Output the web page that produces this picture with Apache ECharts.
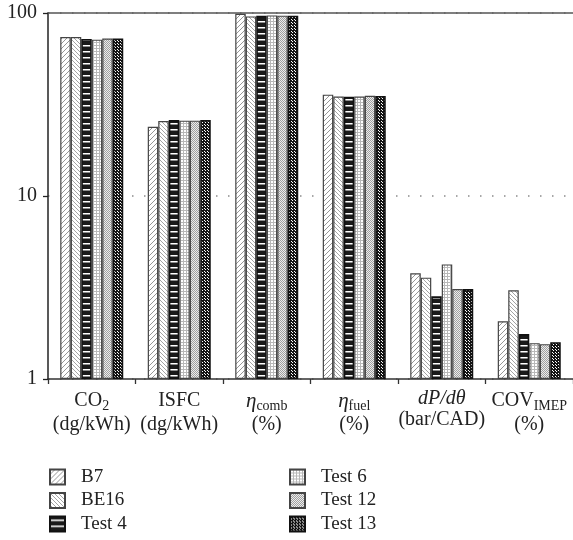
<!DOCTYPE html>
<html>
<head>
<meta charset="utf-8">
<script src="https://cdn.jsdelivr.net/npm/echarts@6/dist/echarts.min.js"></script>
<style>
    html, body { margin: 0; padding: 0; background: #fff; }
    #chart { width: 573px; height: 540px; }
</style>
</head>
<body>
<div id="chart"></div>
<script>
var categories = ['CO2', 'ISFC', 'ηcomb', 'ηfuel', 'dP/dθ', 'COV_IMEP'];
var categoryLabels = [
    '{m|CO}{sub|2}\n{m|(dg/kWh)}',
    '{m|ISFC}\n{m|(dg/kWh)}',
    '{i|η}{sub|comb}\n{m|(%)}',
    '{i|η}{sub|fuel}\n{m|(%)}',
    '{it|dP/dθ}\n{m|(bar/CAD)}',
    '{m|COV}{sub|IMEP}\n{m|(%)}'
];
var yTicks = [1, 10, 100];
var seriesNames = ['B7', 'BE16', 'Test 4', 'Test 6', 'Test 12', 'Test 13'];
var b7 = [73.9, 23.9, 99.0, 35.8, 3.78, 2.07];
var be16 = [73.9, 25.7, 95.8, 35.0, 3.58, 3.05];
var test4 = [72.1, 26.0, 96.7, 34.9, 2.83, 1.76];
var test6 = [71.5, 25.8, 97.0, 35.0, 4.23, 1.57];
var test12 = [72.6, 25.8, 96.7, 35.3, 3.10, 1.55];
var test13 = [72.6, 26.0, 96.7, 35.2, 3.10, 1.59];

var serif = '"Liberation Serif", "DejaVu Serif", serif';

// small canvases used as fill patterns
function makePattern(w, h, draw) {
    var c = document.createElement('canvas');
    c.width = w;
    c.height = h;
    var ctx = c.getContext('2d');
    draw(ctx, w, h);
    return { image: c, repeat: 'repeat' };
}

var patB7 = makePattern(5, 5, function (ctx, w, h) {
    ctx.fillStyle = '#fff';
    ctx.fillRect(0, 0, w, h);
    ctx.strokeStyle = '#8a8a8a';
    ctx.lineWidth = 0.9;
    ctx.beginPath();
    ctx.moveTo(-1, h + 1); ctx.lineTo(w + 1, -1);
    ctx.moveTo(-1, 1); ctx.lineTo(1, -1);
    ctx.moveTo(w - 1, h + 1); ctx.lineTo(w + 1, h - 1);
    ctx.stroke();
});
var patBE16 = makePattern(4, 4, function (ctx, w, h) {
    ctx.fillStyle = '#fff';
    ctx.fillRect(0, 0, w, h);
    ctx.strokeStyle = '#9a9a9a';
    ctx.lineWidth = 0.9;
    ctx.beginPath();
    ctx.moveTo(-1, -1); ctx.lineTo(w + 1, h + 1);
    ctx.moveTo(w - 1, -1); ctx.lineTo(w + 1, 1);
    ctx.moveTo(-1, h - 1); ctx.lineTo(1, h + 1);
    ctx.stroke();
});
var patTest4 = makePattern(4, 6, function (ctx, w, h) {
    ctx.fillStyle = '#1a1a1a';
    ctx.fillRect(0, 0, w, h);
    ctx.fillStyle = '#fff';
    ctx.fillRect(0, 3, w, 1.5);
});
var patTest6 = makePattern(3, 3, function (ctx, w, h) {
    ctx.fillStyle = '#fff';
    ctx.fillRect(0, 0, w, h);
    ctx.fillStyle = '#b8b8b8';
    ctx.fillRect(0, 0, w, 1);
    ctx.fillRect(0, 0, 1, h);
});
var patTest12 = makePattern(2, 2, function (ctx, w, h) {
    ctx.fillStyle = '#ececec';
    ctx.fillRect(0, 0, w, h);
    ctx.fillStyle = '#a0a0a0';
    ctx.fillRect(0, 0, 1, 1);
    ctx.fillRect(1, 1, 1, 1);
});
var patTest13 = makePattern(3, 3, function (ctx, w, h) {
    ctx.fillStyle = '#141414';
    ctx.fillRect(0, 0, w, h);
    ctx.fillStyle = '#fff';
    ctx.fillRect(0, 1, 1, 1);
    ctx.fillRect(1, 2, 1, 1);
});

var seriesData = [b7, be16, test4, test6, test12, test13];
var fills = [patB7, patBE16, patTest4, patTest6, patTest12, patTest13];
var borders = ['#444', '#444', '#111', '#444', '#444', '#111'];

var series = [];
for (var i = 0; i < seriesNames.length; i++) {
    series.push({
        name: seriesNames[i],
        type: 'bar',
        barGap: 0,
        barCategoryGap: '28%',
        data: seriesData[i],
        itemStyle: {
            color: fills[i],
            borderColor: borders[i],
            borderWidth: i === 2 || i === 5 ? 1.6 : 1.2
        },
        emphasis: { disabled: true }
    });
}

var labelRich = {
    m: { fontFamily: serif, fontSize: 20, color: '#222', lineHeight: 24, verticalAlign: 'middle' },
    i: { fontFamily: serif, fontSize: 21, fontStyle: 'italic', color: '#222', lineHeight: 24, verticalAlign: 'middle' },
    it: { fontFamily: serif, fontSize: 20, fontStyle: 'italic', color: '#222', lineHeight: 19, verticalAlign: 'middle' },
    sub: { fontFamily: serif, fontSize: 14, color: '#222', lineHeight: 14, verticalAlign: 'bottom' }
};

function legendBlock(names, left) {
    return {
        data: names,
        orient: 'vertical',
        left: left,
        top: 462,
        height: 76,
        icon: 'rect',
        itemWidth: 15,
        itemHeight: 15,
        itemGap: 3.5,
        formatter: function (name) { return '{t|' + name + '}'; },
        textStyle: {
            fontFamily: serif, fontSize: 19, color: '#222', lineHeight: 20,
            rich: { t: { fontFamily: serif, fontSize: 19, color: '#222', lineHeight: 20, padding: [0, 0, 0, 11] } }
        },
        selectedMode: false
    };
}

var option = {
    animation: false,
    backgroundColor: '#fff',
    grid: { left: 48, right: 0, top: 13, bottom: 161 },
    legend: [legendBlock(seriesNames.slice(0, 3), 44), legendBlock(seriesNames.slice(3), 284)],
    xAxis: [{
        type: 'category',
        data: categories,
        position: 'bottom',
        axisLine: { lineStyle: { color: '#333', width: 1.5 } },
        axisTick: { show: true, length: 5, interval: 0, lineStyle: { color: '#333', width: 1.3 } },
        axisLabel: {
            interval: 0,
            margin: 10,
            formatter: function (v, idx) { return categoryLabels[idx]; },
            rich: labelRich
        }
    }, {
        type: 'category',
        data: categories,
        position: 'top',
        axisLine: { lineStyle: { color: '#555', width: 1.5 } },
        axisTick: { show: false },
        axisLabel: { show: false }
    }],
    yAxis: {
        type: 'log',
        logBase: 10,
        min: yTicks[0],
        max: yTicks[yTicks.length - 1],
        axisLine: { show: true, lineStyle: { color: '#222', width: 1.5 } },
        axisTick: { show: true, length: 5, lineStyle: { color: '#222', width: 1.3 } },
        minorTick: { show: false },
        axisLabel: {
            margin: 11,
            fontFamily: serif,
            fontSize: 20,
            color: '#222'
        },
        splitLine: { show: true, lineStyle: { color: '#8a8a8a', width: 1.5, type: [1.5, 10.5] } }
    },
    series: series
};

var chart = echarts.init(document.getElementById('chart'), null, { renderer: 'canvas' });
chart.setOption(option);
</script>
</body>
</html>
